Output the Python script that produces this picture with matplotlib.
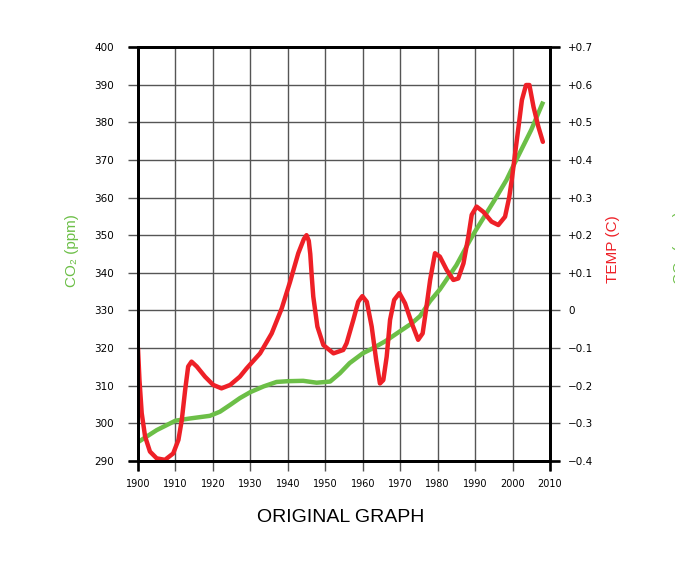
import matplotlib
matplotlib.use("Agg")
import matplotlib.pyplot as plt

# CO2 (ppm)
co2_years = [1900, 1905, 1910, 1913.9, 1919.2, 1921.9, 1924.6, 1927.2, 1930,
             1933.5, 1937, 1940, 1944.1, 1947.7, 1951.3, 1953.9, 1956.5, 1960,
             1962.8, 1966, 1970, 1973, 1975.3, 1978, 1980.6, 1985, 1988.6,
             1990, 1995, 1998.4, 2000, 2005, 2008.2]
co2_ppm = [295, 298.2, 300.7, 301.3, 302.0, 303.1, 304.9, 306.7, 308.3,
           309.8, 311.0, 311.2, 311.3, 310.8, 311.1, 313.3, 316.0, 318.6,
           320.0, 321.8, 324.5, 326.5, 328.5, 332.5, 335.6, 342, 348.6,
           351, 359, 364.7, 368, 378, 385.5]

# temperature anomaly (C)
temp_years = [1900.0, 1900.4, 1901.0, 1901.9, 1903.2, 1905.0, 1907.2, 1909.4,
              1910.8, 1911.7, 1912.6, 1913.4, 1914.3, 1915.7, 1917.9, 1920.1,
              1922.3, 1924.6, 1927.2, 1929.0, 1932.6, 1935.7, 1938.4, 1940.6,
              1942.8, 1944.3, 1945.0, 1945.6, 1946.0, 1946.4, 1946.8, 1947.9,
              1949.5, 1952.2, 1954.8, 1955.7, 1957.5, 1958.8, 1959.9, 1961.1,
              1962.4, 1963.6, 1964.6, 1965.5, 1966.4, 1967.3, 1968.4, 1969.8,
              1971.3, 1973.1, 1974.8, 1976.0, 1976.9, 1978.0, 1979.3, 1980.6,
              1982.4, 1984.2, 1985.5, 1986.9, 1988.2, 1989.1, 1990.4, 1992.2,
              1994.4, 1996.2, 1998.0, 1999.1, 1999.8, 2000.7, 2001.6, 2002.5,
              2003.6, 2004.5, 2005.6, 2006.9, 2008.1]
temp_c = [-0.10, -0.185, -0.273, -0.335, -0.375, -0.393, -0.397, -0.38,
          -0.344, -0.291, -0.211, -0.149, -0.136, -0.149, -0.176, -0.198,
          -0.207, -0.198, -0.176, -0.154, -0.114, -0.061, 0.006, 0.076,
          0.152, 0.19, 0.20, 0.185, 0.15, 0.09, 0.037, -0.043,
          -0.092, -0.114, -0.105, -0.087, -0.025, 0.023, 0.038, 0.023,
          -0.043, -0.132, -0.194, -0.185, -0.123, -0.025, 0.028, 0.046,
          0.019, -0.034, -0.078, -0.061, 0.001, 0.081, 0.152, 0.143,
          0.108, 0.081, 0.085, 0.125, 0.196, 0.254, 0.276, 0.262,
          0.236, 0.227, 0.249, 0.30, 0.347, 0.418, 0.488, 0.559,
          0.599, 0.599, 0.541, 0.488, 0.448]

year_ticks = list(range(1900, 2011, 10))
ppm_ticks = list(range(290, 401, 10))
temp_ticks = [-0.4, -0.3, -0.2, -0.1, 0, 0.1, 0.2, 0.3, 0.4, 0.5, 0.6, 0.7]
temp_labels = ['\u22120.4', '\u22120.3', '\u22120.2', '\u22120.1', '0', '+0.1',
               '+0.2', '+0.3', '+0.4', '+0.5', '+0.6', '+0.7']

GREEN = '#6cbf47'
RED = '#ee2027'
GRID = '#555555'

fig = plt.figure(figsize=(6.75, 5.63), dpi=100)
ax = fig.add_axes([0.2044, 0.1812, 0.6104, 0.7353])

ax.plot(co2_years, co2_ppm, color=GREEN, lw=3.2, solid_joinstyle='round',
        solid_capstyle='butt')
ax.set_xlim(1900, 2010)
ax.set_ylim(290, 400)
ax.set_xticks(year_ticks)
ax.set_yticks(ppm_ticks)
ax.grid(True, color=GRID, lw=1.0)
ax.set_axisbelow(True)
ax.tick_params(axis='both', direction='out', length=7.2, width=1.0,
               color=GRID, labelsize=7.5)
ax.tick_params(axis='y', pad=10)
ax.tick_params(axis='x', pad=6, labelsize=7)

ax2 = ax.twinx()
ax2.plot(temp_years, temp_c, color=RED, lw=3.2, solid_joinstyle='round',
         solid_capstyle='round')
ax2.set_ylim(-0.4, 0.7)
ax2.set_yticks(temp_ticks)
ax2.set_yticklabels(temp_labels)
ax2.tick_params(axis='y', direction='out', length=7.2, width=1.0,
                color=GRID, labelsize=7.5, pad=6)

for a in (ax, ax2):
    for s in a.spines.values():
        s.set_linewidth(1.9)
        s.set_color('black')

# frame lines running past the corners
ext = 0.0243
for x0, x1, y0, y1 in [(-ext, 1 + ext, 0, 0), (-ext, 1 + ext, 1, 1),
                       (0, 0, -ext, 1), (1, 1, -ext, 1)]:
    ax2.plot([x0, x1], [y0, y1], transform=ax2.transAxes, color='black',
             lw=1.9, clip_on=False, solid_capstyle='butt')

fig.text(72 / 675, 1 - 251 / 563, 'CO\u2082 (ppm)', rotation=90, color=GREEN,
         fontsize=11, ha='center', va='center',
         family=['Liberation Sans', 'DejaVu Sans'])
fig.text(613 / 675, 1 - 249 / 563, 'TEMP (C)', rotation=90, color=RED,
         fontsize=11, ha='center', va='center', family='Liberation Sans')
# second CO2 label, mostly off the right edge as in the original
fig.text(680 / 675, 1 - 248 / 563, 'CO\u2082 (ppm)', rotation=90, color=GREEN,
         fontsize=11, ha='center', va='center',
         family=['Liberation Sans', 'DejaVu Sans'])
fig.text(341 / 675, 1 - 517 / 563, 'ORIGINAL GRAPH', fontsize=14,
         ha='center', va='center', family='Liberation Sans')

fig.savefig('out.png', dpi=100)
